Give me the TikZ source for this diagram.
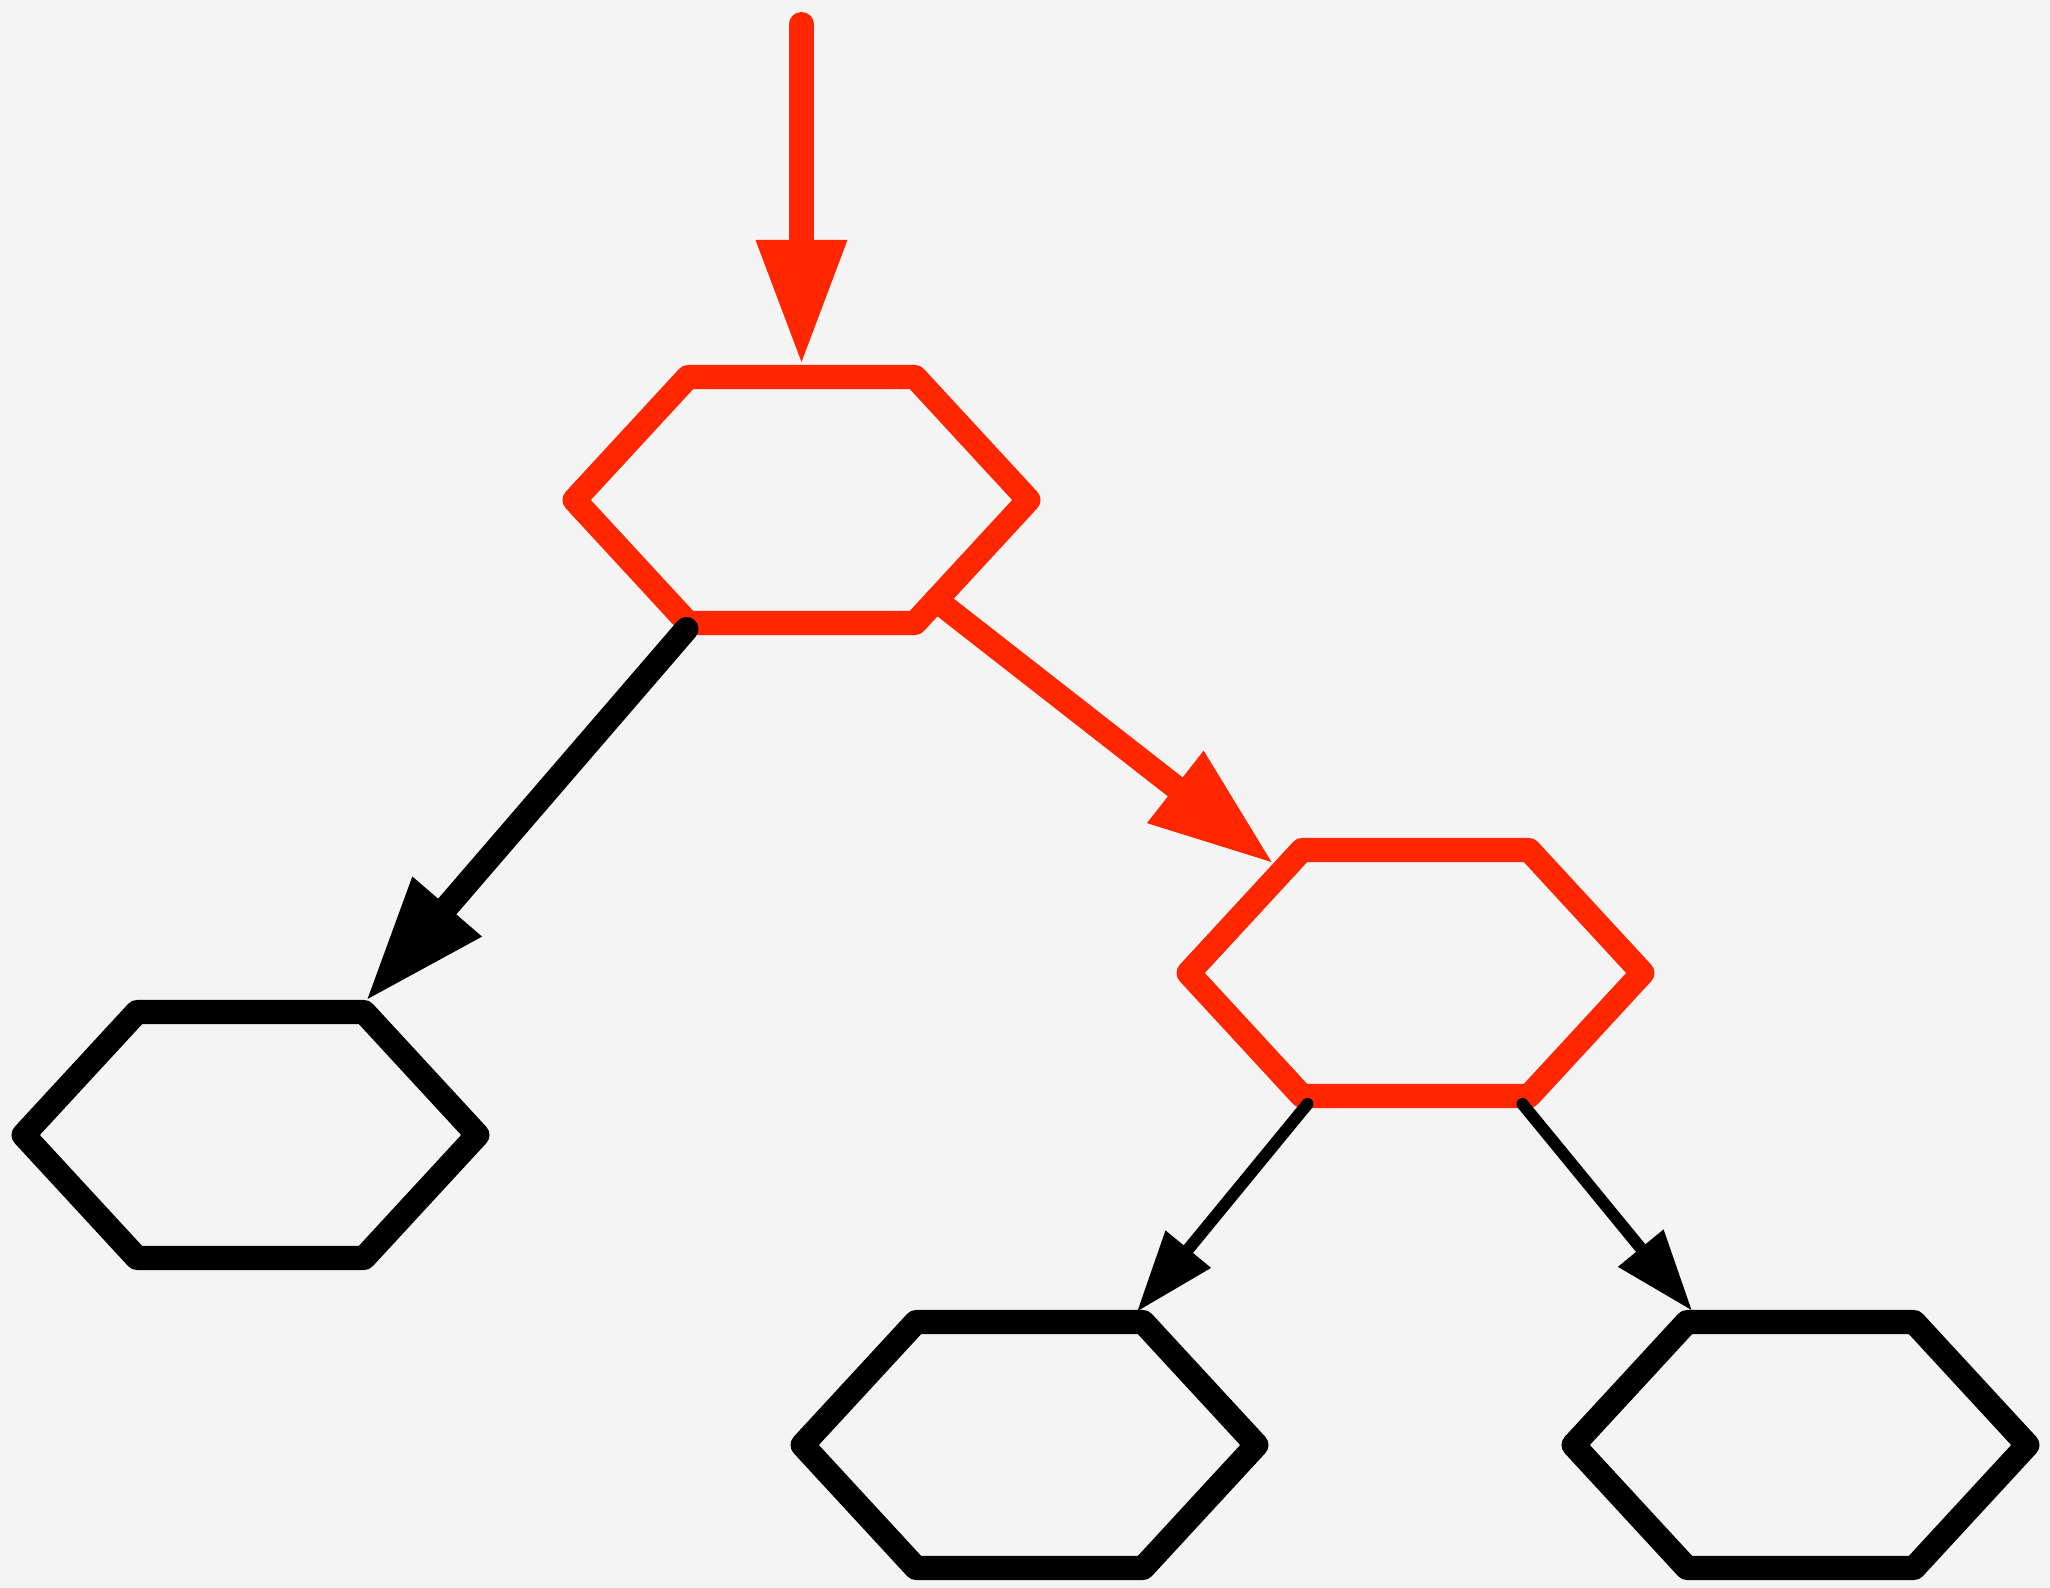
\documentclass[tikz,border=0pt]{standalone}
\usetikzlibrary{arrows.meta,calc}
\definecolor{hred}{HTML}{FF2600}
\definecolor{paper}{HTML}{F4F4F4}

\begin{document}
\begin{tikzpicture}[x=0.01cm, y=-0.01cm,
  ring/.style={line width=2.4mm, line join=round},
  heavy/.style={line width=2.4mm, line cap=round, -{Triangle[length=12.2mm, width=9.2mm, line width=0pt]}},
  light/.style={line width=1.2mm, line cap=round, -{Triangle[length=8mm, width=5.9mm, line width=0pt]}}]
\fill[paper] (0,0) rectangle (2050,1588);
\useasboundingbox (0,0) rectangle (2050,1588);
% five rings: root, its two children, and the children of the right one
\foreach \n/\x/\y/\c in {r/802/500/hred, m/1416/973/hred, a/251/1135/black, b/1030/1445/black, c/1801/1445/black} {
  \draw[ring, draw=\c] (\x-227.5,\y) coordinate (\n-l) -- ++(113.5,-123) coordinate (\n-tl)
    -- ++(227,0) coordinate (\n-tr) -- ++(113.5,123) coordinate (\n-r)
    -- ++(-113.5,123) coordinate (\n-br) -- ++(-227,0) coordinate (\n-bl) -- cycle;
}
\coordinate (rtop) at ($(r-tl)!0.5!(r-tr)$);
\coordinate (in) at ($(rtop)+(0,-353)$);
\draw[heavy, hred] (in) -- ($(rtop)+(0,-15)$);
\draw[heavy, hred] ($(r-br)+(21,-23)$) -- ($(m-tl)+(-30.5,12)$);
\draw[heavy] ($(r-bl)+(-1.5,6)$) -- ($(a-tr)+(3.5,-13)$);
\draw[light] ($(m-bl)+(5.5,8)$) -- ($(b-tr)+(-5.5,-11)$);
\draw[light] ($(m-br)+(-6.5,8)$) -- ($(c-tl)+(4.5,-12)$);
\end{tikzpicture}
\end{document}
